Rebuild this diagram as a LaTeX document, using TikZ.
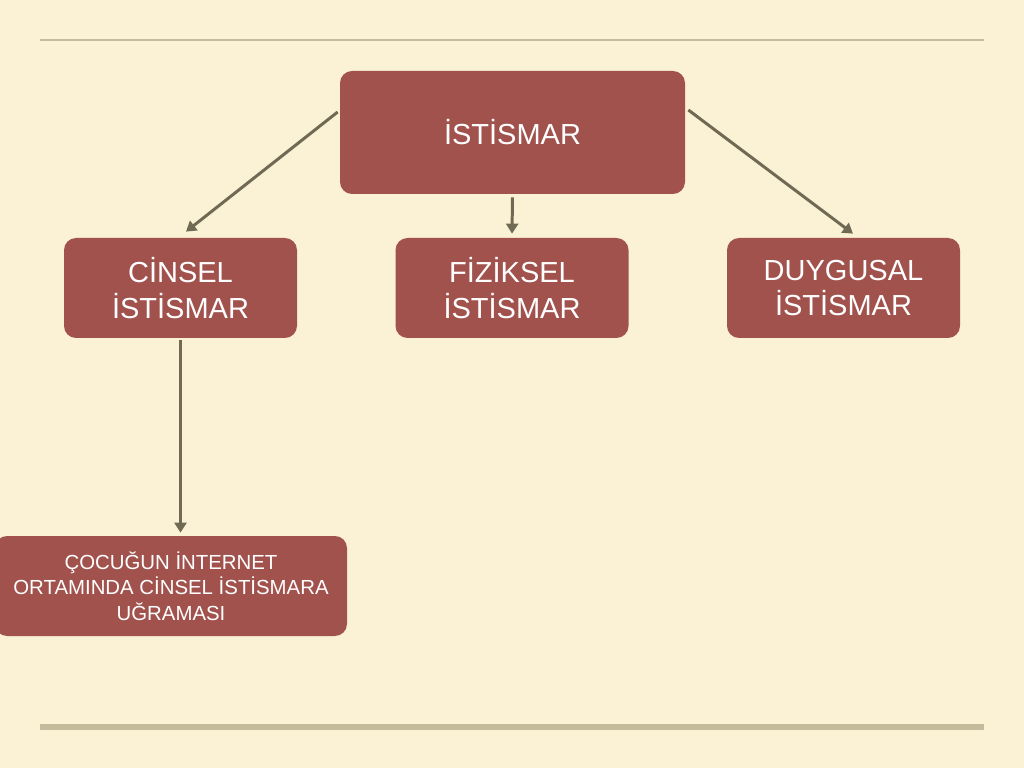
\documentclass[tikz,border=0pt]{standalone}
\usepackage{fontspec}
\setmainfont{Liberation Sans}
\usepackage{tikz}
\usetikzlibrary{arrows.meta,calc}

\definecolor{zemin}{RGB}{251,242,213}
\definecolor{kutu}{RGB}{161,82,77}
\definecolor{ok}{RGB}{112,106,84}
\definecolor{cizgi}{RGB}{196,186,156}

\tikzset{
  kutubox/.style={fill=kutu,rounded corners=0.24cm,text=white,align=center,inner sep=0pt},
  pil/.style={draw=ok,line width=1.7pt,-{Triangle[length=0.2cm,width=0.24cm]}}
}

\begin{document}
\begin{tikzpicture}
%\draw[help lines] (0,-15.36) grid (20.48,0);
\fill[zemin] (0,0) rectangle (20.48,-15.36);
\useasboundingbox (0,0) rectangle (20.48,-15.36);

\draw[cizgi,line width=1.1pt] (0.8,-0.8)--(19.68,-0.8);
\draw[cizgi,line width=3.4pt] (0.8,-14.54)--(19.68,-14.54);

\node[kutubox,minimum width=6.9cm,minimum height=2.46cm,font=\fontsize{16.5}{20}\selectfont] (ist) at (10.25,-2.65) {İSTİSMAR};
\node[kutubox,minimum width=4.66cm,minimum height=2cm,font=\fontsize{16.5}{20}\selectfont] (cin) at (3.61,-5.76) {CİNSEL\\İSTİSMAR};
\node[kutubox,minimum width=4.66cm,minimum height=2cm,font=\fontsize{16.5}{20}\selectfont] (fiz) at (10.24,-5.76) {FİZİKSEL\\İSTİSMAR};
\node[kutubox,minimum width=4.66cm,minimum height=2cm,font=\fontsize{16.5}{20}\selectfont] (duy) at (16.87,-5.76) {DUYGUSAL\\İSTİSMAR};
\node[kutubox,minimum width=7.04cm,minimum height=2cm,font=\fontsize{11.6}{14.5}\selectfont] (cocuk) at (3.42,-11.72) {ÇOCUĞUN İNTERNET\\ORTAMINDA CİNSEL İSTİSMARA\\UĞRAMASI};

\draw[pil] ([xshift=-0.04cm,yshift=0.41cm]ist.west)--([xshift=0.11cm,yshift=0.12cm]cin.north);
\draw[pil,shorten <=0.06cm,shorten >=0.08cm] (ist.south)--(fiz.north);
\draw[pil] ([xshift=0.06cm,yshift=0.45cm]ist.east)--([xshift=0.19cm,yshift=0.08cm]duy.north);
\draw[pil,shorten <=0.04cm,shorten >=0.06cm] (cin.south)--(cin.south |- cocuk.north);
\end{tikzpicture}
\end{document}
